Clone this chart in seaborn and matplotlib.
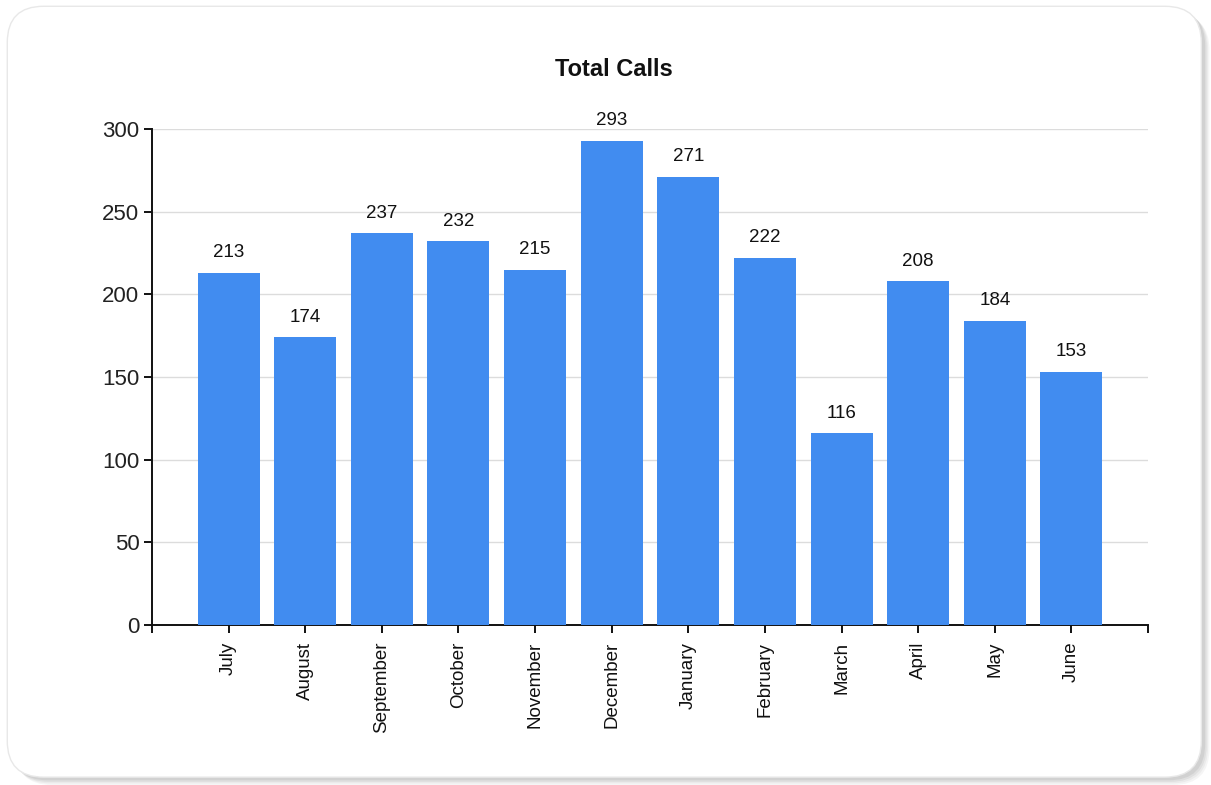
import matplotlib
matplotlib.use("Agg")
import matplotlib.pyplot as plt
import seaborn as sns
import pandas as pd
from matplotlib.patches import FancyBboxPatch

# data
months = ["July", "August", "September", "October", "November", "December",
          "January", "February", "March", "April", "May", "June"]
calls = [213, 174, 237, 232, 215, 293, 271, 222, 116, 208, 184, 153]

df = pd.DataFrame({"month": months, "calls": calls})

sns.set_style("white")
plt.rcParams['font.family'] = ['Liberation Sans', 'DejaVu Sans']

fig = plt.figure(figsize=(12.11, 7.85), dpi=100)
fig.patch.set_facecolor("white")

# card with soft shadow
for i, a in enumerate([0.04, 0.04, 0.05, 0.06]):
    off = (4 - i) * 0.002
    fig.patches.append(FancyBboxPatch((0.008 + off * 0.6, 0.008 - off), 0.986, 0.982,
                                      boxstyle="round,pad=0,rounding_size=0.03",
                                      transform=fig.transFigure, fc="#000000", ec="none",
                                      alpha=a, zorder=0, mutation_aspect=1.54))
fig.patches.append(FancyBboxPatch((0.006, 0.01), 0.986, 0.982,
                                  boxstyle="round,pad=0,rounding_size=0.03",
                                  transform=fig.transFigure, fc="white", ec="#e8e8e8",
                                  lw=1, zorder=1, mutation_aspect=1.54))

ax = fig.add_axes([0.1255, 0.2038, 0.8225, 0.6319])
ax.set_zorder(2)
ax.patch.set_alpha(0)

sns.barplot(data=df, x="month", y="calls", color="#418CF0", saturation=1,
            width=0.81, linewidth=0, ax=ax, zorder=3)

for i, v in enumerate(calls):
    ax.text(i, v + 7, str(v), ha="center", va="bottom", fontsize=13.5, color="#111111")

ax.set_xlim(-1, 12)
ax.set_ylim(0, 300)
ax.set_yticks([0, 50, 100, 150, 200, 250, 300])
ax.yaxis.grid(True, color="#dcdcdc", lw=1, zorder=0)
ax.set_axisbelow(True)

ax.set_xlabel("")
ax.set_ylabel("")
fig.text(0.507, 0.912, "Total Calls", fontsize=17, fontweight="bold", color="#111111",
         ha="center", va="center")

for s in ["top", "right"]:
    ax.spines[s].set_visible(False)
for s in ["left", "bottom"]:
    ax.spines[s].set_color("#111111")
    ax.spines[s].set_linewidth(1.4)

ax.tick_params(axis="y", length=6, width=1.4, labelsize=16, color="#111111",
               labelcolor="#222222", pad=3, left=True)
ax.tick_params(axis="x", length=6, width=1.4, labelsize=13.5, color="#111111",
               labelcolor="#111111", labelrotation=90, pad=6, bottom=True)
ax.set_xticks([-1, 12], minor=True)
ax.tick_params(axis="x", which="minor", length=6, width=1.4, color="#111111", bottom=True)

fig.savefig("out.png", dpi=100, facecolor="white")
